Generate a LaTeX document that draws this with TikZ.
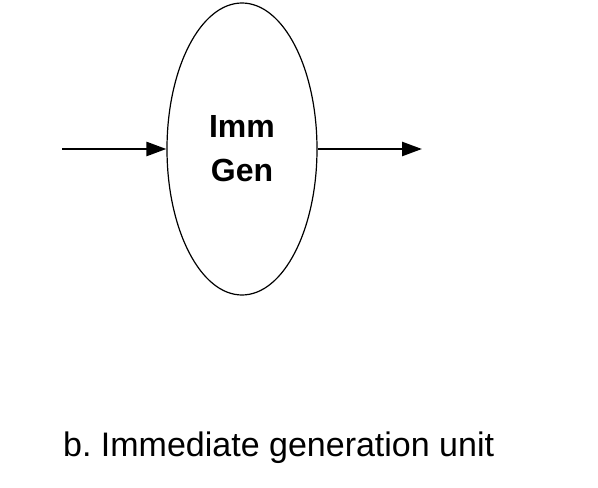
\documentclass[tikz,border=0pt]{standalone}
\usepackage{fontspec}
\setmainfont{Liberation Sans}
\frenchspacing
\usetikzlibrary{arrows.meta,shapes.geometric}
\begin{document}
\begin{tikzpicture}[x=1pt,y=1pt,
  unit/.style={draw, ellipse, line width=1.2pt, minimum width=150pt, minimum height=292pt, inner sep=0pt},
  lbl/.style={font=\fontsize{32}{38}\selectfont\bfseries, inner sep=0pt, anchor=base},
  captext/.style={font=\fontsize{34}{40}\selectfont, inner sep=0pt, anchor=base west},
  arr/.style={line width=2.6pt, -{Triangle[length=20pt,width=14pt]}}]
\useasboundingbox (0,0) rectangle (598,488);
\node[unit] (gen) at (242,339) {};
\node[lbl] (t1) at (242,350) {Imm};
\node[lbl] (t2) at (242,306) {Gen};
\coordinate (in) at (62,339);
\coordinate (out) at (422,339);
\draw[arr] (in) -- (gen.west);
\draw[arr] (gen.east) -- (out);
\node[captext] (caption) at (63,31) {b.\ Immediate generation unit};
\end{tikzpicture}
\end{document}
